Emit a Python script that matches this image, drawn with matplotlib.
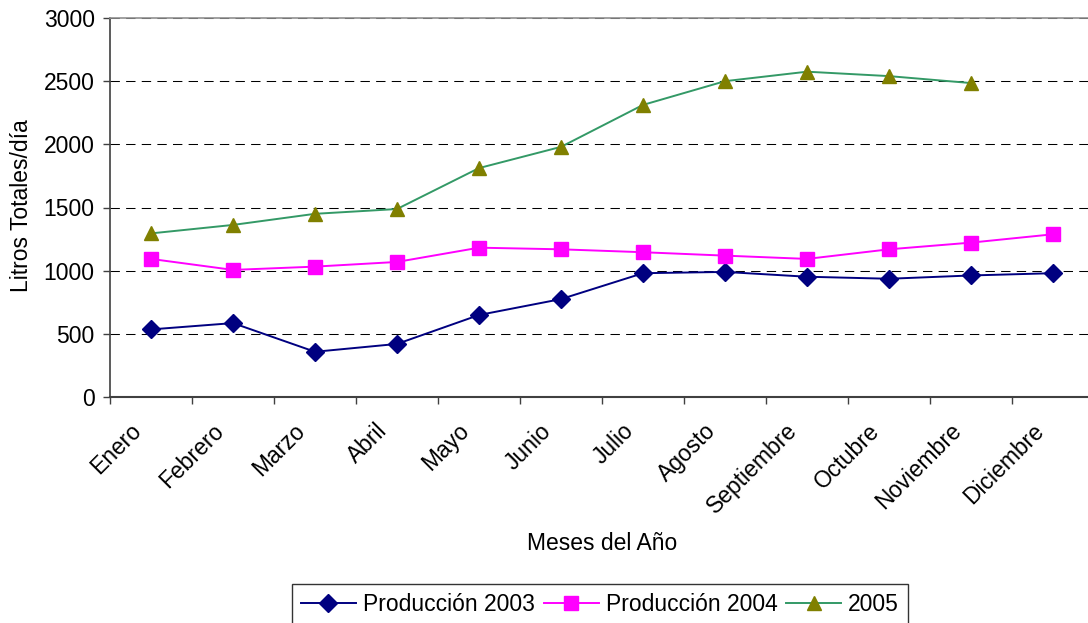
import matplotlib
matplotlib.use("Agg")
import matplotlib.pyplot as plt
import matplotlib.transforms as mtransforms
import numpy as np

plt.rcParams['font.family'] = ['Liberation Sans', 'DejaVu Sans']

meses = ["Enero", "Febrero", "Marzo", "Abril", "Mayo", "Junio", "Julio",
         "Agosto", "Septiembre", "Octubre", "Noviembre", "Diciembre"]
prod_2003 = [535, 585, 358, 420, 649, 775, 980, 990, 952, 936, 962, 980]
prod_2004 = [1093, 1006, 1032, 1069, 1182, 1169, 1146, 1119, 1093, 1169, 1222, 1288]
prod_2005 = [1295, 1362, 1450, 1488, 1812, 1980, 2312, 2500, 2575, 2540, 2485]
y_ticks = [0, 500, 1000, 1500, 2000, 2500, 3000]

W, H = 1088, 623
fig = plt.figure(figsize=(W / 100, H / 100), dpi=100)
ax = fig.add_axes([110 / W, 1 - 397 / H, 984 / W, 379 / H])

x = np.arange(len(meses))
fs = 16.5

ax.plot(x, prod_2003, color='#000080', lw=1.4, marker='D', ms=9,
        mfc='#000080', mec='#000080', label='Producción 2003', zorder=3)
ax.plot(x, prod_2004, color='#FF00FF', lw=1.4, marker='s', ms=9.5,
        mfc='#FF00FF', mec='#FF00FF', label='Producción 2004', zorder=3)
ax.plot(np.arange(len(prod_2005)), prod_2005, color='#339966', lw=1.4, marker='^', ms=10.5,
        mfc='#808000', mec='#808000', label='2005', zorder=3)

ax.set_xlim(-0.5, len(meses) - 0.5)
ax.set_ylim(y_ticks[0], y_ticks[-1])
ax.set_yticks(y_ticks)
ax.set_yticklabels([str(v) for v in y_ticks], fontsize=fs)
ax.yaxis.grid(True, color='black', lw=0.75, linestyle=(0, (9, 6)))
ax.set_axisbelow(True)

# category boundaries as major ticks, names as minor ticks at centers
ax.set_xticks(np.arange(len(meses) + 1) - 0.5)
ax.set_xticklabels([])
ax.set_xticks(x, minor=True)
ax.set_xticklabels(meses, minor=True, rotation=45, ha='right', va='top', fontsize=fs)
ax.tick_params(axis='x', which='major', length=5, width=1, color='#404040', direction='out')
ax.tick_params(axis='x', which='minor', length=0, pad=16)
ax.tick_params(axis='y', length=5, width=1, color='#404040', direction='out', pad=6)
offset = mtransforms.ScaledTranslation(-5 / 100, 0, fig.dpi_scale_trans)
for lab in ax.get_xticklabels(minor=True):
    lab.set_transform(lab.get_transform() + offset)

ax.spines['right'].set_visible(False)
ax.spines['top'].set_color('#909090')
ax.spines['top'].set_linewidth(1.2)
ax.spines['left'].set_color('#404040')
ax.spines['bottom'].set_color('#404040')
ax.spines['left'].set_linewidth(1.2)
ax.spines['bottom'].set_linewidth(1.5)

ax.set_ylabel('Litros Totales/día', fontsize=fs)
ax.yaxis.set_label_coords((22 - 110) / 984, (397 - 206) / 379)
ax.yaxis.label.set_va('center')
ax.set_xlabel('Meses del Año', fontsize=fs)
ax.xaxis.set_label_coords((602 - 110) / 984, (397 - 543) / 379)
ax.xaxis.label.set_va('center')

leg = fig.legend(loc='upper center', bbox_to_anchor=(600 / W, 1 - 584 / H), ncol=3,
                 fontsize=fs, frameon=True, fancybox=False, edgecolor='black',
                 handlelength=2.4, handletextpad=0.3, columnspacing=0.4,
                 borderpad=0.4, borderaxespad=0)
leg.get_frame().set_linewidth(1.0)

fig.savefig('out.png', dpi=100)
